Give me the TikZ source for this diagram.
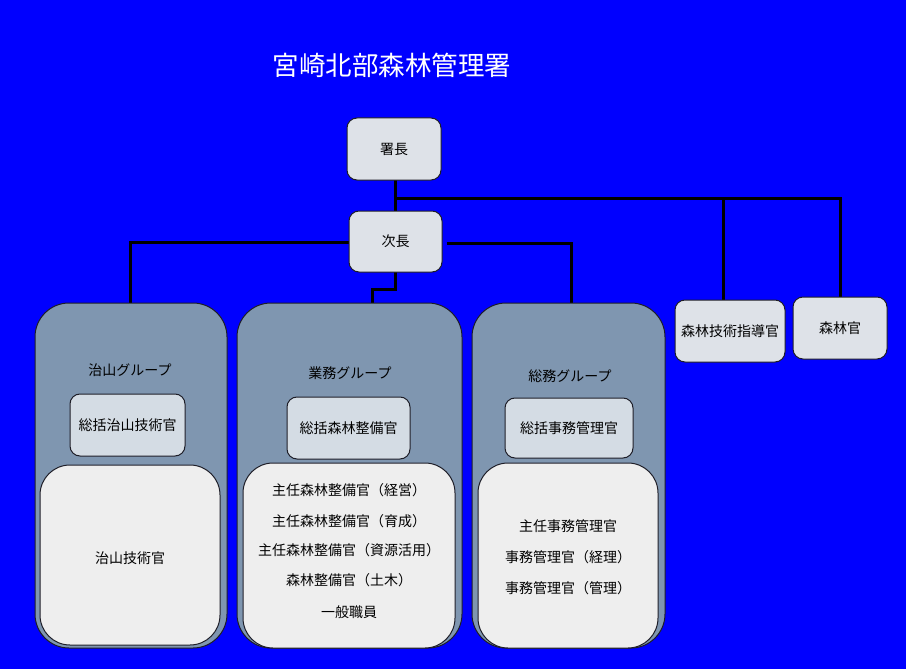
\documentclass[tikz,border=0pt]{standalone}
\usepackage{fontspec}
\setmainfont{Noto Sans CJK JP}
\definecolor{bg}{RGB}{0,0,255}
\definecolor{boxfill}{RGB}{222,226,232}
\definecolor{grpfill}{RGB}{127,150,176}
\definecolor{subfill}{RGB}{212,220,228}
\definecolor{innerfill}{RGB}{238,238,238}
\definecolor{edge}{RGB}{30,30,40}
\begin{document}
\begin{tikzpicture}[x=1pt,y=-1pt,
  box/.style={draw=edge,line width=1pt,fill=boxfill,rounded corners=10pt},
  grp/.style={draw=edge,line width=1pt,fill=grpfill,rounded corners=34pt},
  sub/.style={draw=edge,line width=1pt,fill=subfill,rounded corners=10pt},
  inner/.style={draw=edge,line width=1pt,fill=innerfill,rounded corners=30pt},
  lbl/.style={font=\fontsize{14}{16}\selectfont,text=black},
  conn/.style={line width=3pt,black}]
\fill[bg] (0,0) rectangle (906,669);
\useasboundingbox (0,0) rectangle (906,669);
\node[text=white,font=\fontsize{26.5}{30}\selectfont] (title) at (392,65) {宮崎北部森林管理署};
% connectors first
\coordinate (j1) at (395,198);
\coordinate (jR) at (840,198);
\coordinate (jT) at (723,198);
\coordinate (jL) at (130,242);
\coordinate (jS) at (571,243);
\coordinate (jG1) at (395,289);
\coordinate (jG2) at (372,289);
\draw[conn] (395,180) -- (395,211);
\draw[conn] (j1) -- (jR) -- (840,298);
\draw[conn] (jT) -- (723,301);
\draw[conn] (349,242) -- (jL) -- (130,304);
\draw[conn] (447,243) -- (jS) -- (571,304);
\draw[conn] (395,272) -- (jG1) -- (jG2) -- (372,304);
% top boxes
\node[box,minimum width=94pt,minimum height=62pt] (shocho) at (394,149) {};
\node[lbl] at (shocho) {署長};
\node[box,minimum width=93pt,minimum height=61pt] (jicho) at (395.5,241.5) {};
\node[lbl] at (jicho) {次長};
\node[box,minimum width=110pt,minimum height=62pt] (shido) at (730,331) {};
\node[lbl] at (shido) {森林技術指導官};
\node[box,minimum width=94pt,minimum height=62pt] (shinrinkan) at (840,328) {};
\node[lbl] at (shinrinkan) {森林官};
% groups
\node[grp,minimum width=192pt,minimum height=345pt] (g1) at (131,475.5) {};
\node[grp,minimum width=225pt,minimum height=345pt] (g2) at (349.5,475.5) {};
\node[grp,minimum width=193pt,minimum height=345pt] (g3) at (568.5,475.5) {};
\node[lbl] (g1l) at (130,370) {治山グループ};
\node[lbl] (g2l) at (350,373) {業務グループ};
\node[lbl] (g3l) at (570,376) {総務グループ};
\node[sub,minimum width=115pt,minimum height=62pt] (s1) at (127.5,425) {};
\node[lbl] at (s1) {総括治山技術官};
\node[sub,minimum width=123pt,minimum height=62pt] (s2) at (348.5,428) {};
\node[lbl] at (s2) {総括森林整備官};
\node[sub,minimum width=128pt,minimum height=60pt] (s3) at (569,428) {};
\node[lbl] at (s3) {総括事務管理官};
\node[inner,minimum width=180pt,minimum height=180pt] (i1) at (130,555) {};
\node[lbl] at (130,558) {治山技術官};
\node[inner,minimum width=212pt,minimum height=185pt] (i2) at (349,555.5) {};
\node[lbl] at (349,490) {主任森林整備官（経営）};
\node[lbl] at (349,521) {主任森林整備官（育成）};
\node[lbl] at (349,550) {主任森林整備官（資源活用）};
\node[lbl] at (349,580) {森林整備官（土木）};
\node[lbl] at (349,612) {一般職員};
\node[inner,minimum width=180pt,minimum height=185pt] (i3) at (568,555.5) {};
\node[lbl] at (568,526) {主任事務管理官};
\node[lbl] at (568,557) {事務管理官（経理）};
\node[lbl] at (568,588) {事務管理官（管理）};
\end{tikzpicture}
\end{document}
